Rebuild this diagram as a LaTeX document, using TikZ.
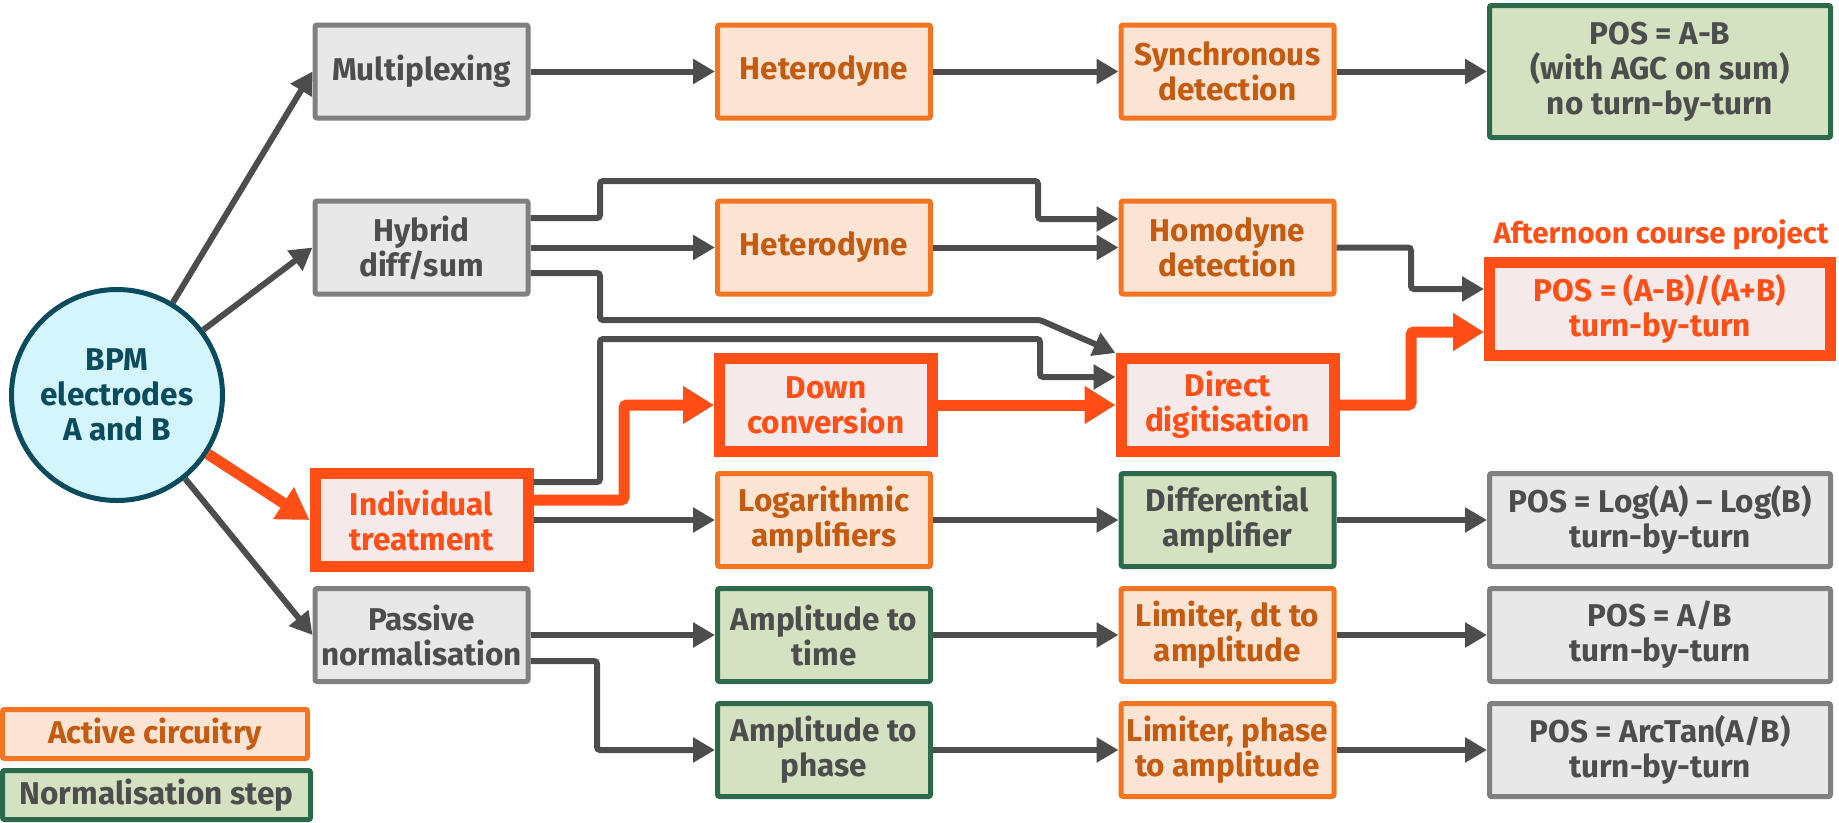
\documentclass[tikz,border=0pt]{standalone}
\usepackage{fontspec}
\setmainfont{Fira Sans}
\usetikzlibrary{arrows.meta,calc}
\definecolor{lnc}{HTML}{4D4D4D}
\definecolor{grayfill}{HTML}{E8E8E8}
\definecolor{grayline}{HTML}{808080}
\definecolor{orfill}{HTML}{FCE4D4}
\definecolor{orline}{HTML}{F47521}
\definecolor{ortext}{HTML}{C55A11}
\definecolor{grfill}{HTML}{D4E2C2}
\definecolor{grline}{HTML}{2D6A4C}
\definecolor{redc}{HTML}{FF4F17}
\definecolor{redfill}{HTML}{F6E9E9}
\definecolor{cyfill}{HTML}{D5F5FD}
\definecolor{tealc}{HTML}{0B4B5E}
\begin{document}
\begin{tikzpicture}[x=1pt,y=-1pt,
  txt/.style={font=\fontsize{31.5}{35}\selectfont\bfseries},
  box/.style={rectangle, rounded corners=2pt, line width=5pt, minimum width=213pt, minimum height=93pt, align=center, txt, inner sep=0pt},
  graybox/.style={box, draw=grayline, fill=grayfill, text=lnc},
  orbox/.style={box, draw=orline, fill=orfill, text=ortext},
  grbox/.style={box, draw=grline, fill=grfill, text=lnc},
  redbox/.style={box, draw=redc, fill=redfill, text=redc, line width=11pt, rounded corners=0pt},
  wide/.style={minimum width=341pt},
  conn/.style={draw=lnc, line width=6pt, rounded corners=3pt, -{Triangle[length=22pt,width=24pt]}},
  rconn/.style={draw=redc, line width=11pt, rounded corners=3pt, -{Triangle[length=31pt,width=36pt]}},
]
\useasboundingbox (0,0) rectangle (1839,822);

% source
\node[circle, draw=tealc, fill=cyfill, line width=5pt, minimum size=211pt, text=tealc, align=center, txt, inner sep=0pt] (bpm) at (117,395) {BPM\\electrodes\\A and B};

% column 1
\node[graybox] (mux) at (421.5,71.5) {Multiplexing};
\node[graybox] (hyb) at (421.5,247.5) {Hybrid\\diff/sum};
\node[redbox]  (ind) at (421.5,520) {Individual\\treatment};
\node[graybox] (pas) at (421.5,635) {Passive\\normalisation};

% column 2
\node[orbox] (het1) at (824,71.5) {Heterodyne};
\node[orbox] (het2) at (824,247.5) {Heterodyne};
\node[redbox] (dc) at (826,405) {Down\\conversion};
\node[orbox] (log) at (824,520) {Logarithmic\\amplifiers};
\node[grbox] (at) at (824,635) {Amplitude to\\time};
\node[grbox] (ap) at (824,750) {Amplitude to\\phase};

% column 3
\node[orbox] (sync) at (1227.5,71.5) {Synchronous\\detection};
\node[orbox] (hom) at (1227.5,247.5) {Homodyne\\detection};
\node[redbox] (dd) at (1227.5,405) {Direct\\digitisation};
\node[grbox] (diff) at (1227.5,520) {Differential\\amplifier};
\node[orbox] (ldt) at (1227.5,635) {Limiter, dt to\\amplitude};
\node[orbox] (lph) at (1227.5,750) {Limiter, phase\\to amplitude};

% column 4
\node[grbox, wide, minimum height=132pt] (posab) at (1660,71.5) {POS = A-B\\(with AGC on sum)\\no turn-by-turn};
\node[redbox, wide] (posr) at (1660,309) {POS = (A-B)/(A+B)\\turn-by-turn};
\node[text=redc, font=\fontsize{29.5}{35}\selectfont\bfseries] (aft) at (1661,235) {Afternoon course project};
\node[graybox, wide] (poslog) at (1660,520) {POS = Log(A) – Log(B)\\turn-by-turn};
\node[graybox, wide] (posdiv) at (1660,635) {POS = A/B\\turn-by-turn};
\node[graybox, wide] (posat) at (1660,750) {POS = ArcTan(A/B)\\turn-by-turn};

% legend
\node[orbox, minimum width=305pt, minimum height=49pt] (lga) at (155,734) {Active circuitry};
\node[grbox, minimum width=308pt, minimum height=49pt] (lgn) at (156.5,795) {Normalisation step};

% connectors from BPM
\draw[conn] (bpm) -- (mux.west);
\draw[conn] (bpm) -- (hyb.west);
\draw[rconn] (bpm) -- (ind.west);
\draw[conn] (bpm) -- (pas.west);

% row 1
\draw[conn] (mux) -- (het1);
\draw[conn] (het1) -- (sync);
\draw[conn] (sync) -- (posab);

% hybrid
\draw[conn] (hyb.east |- 0,218) -- (600,218) -- (600,181) -- (1038,181) -- (1038,219) -- (hom.west |- 0,219);
\draw[conn] (hyb) -- (het2);
\draw[conn] (het2) -- (hom);
\draw[conn] (hyb.east |- 0,273) -- (600,273) -- (600,320) -- (1040,320) -- (dd.north west);
\draw[conn] (hom.east) -- (1411,247.5) -- (1411,289) -- (posr.west |- 0,289);

% individual
\draw[conn] (ind.east |- 0,482) -- (600,482) -- (600,339) -- (1040,339) -- (1040,377) -- (dd.west |- 0,377);
\draw[rconn] (ind.east |- 0,500) -- (624,500) -- (624,405) -- (dc.west);
\draw[rconn] (dc) -- (dd);
\draw[rconn] (dd.east) -- (1411,405) -- (1411,332) -- (posr.west |- 0,332);
\draw[conn] (ind) -- (log);
\draw[conn] (log) -- (diff);
\draw[conn] (diff) -- (poslog);

% passive
\draw[conn] (pas) -- (at);
\draw[conn] (at) -- (ldt);
\draw[conn] (ldt) -- (posdiv);
\draw[conn] (pas.east |- 0,661) -- (597,661) -- (597,750) -- (ap.west);
\draw[conn] (ap) -- (lph);
\draw[conn] (lph) -- (posat);
\end{tikzpicture}
\end{document}
